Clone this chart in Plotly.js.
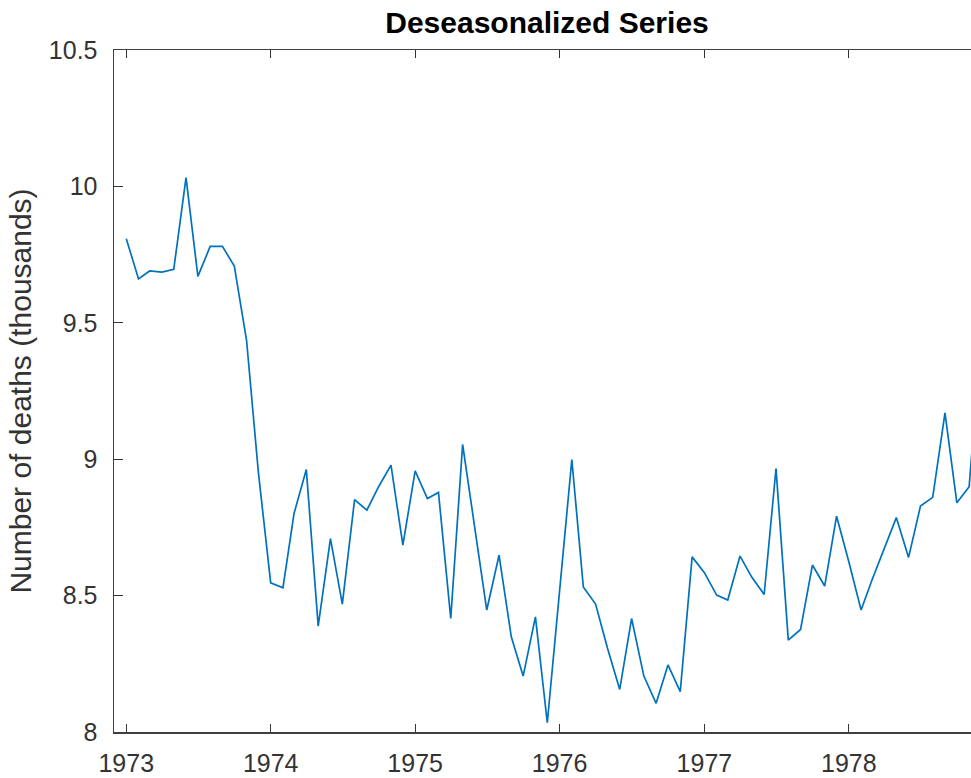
<!DOCTYPE html>
<html>
<head>
<meta charset="utf-8">
<script src="https://cdn.plot.ly/plotly-3.0.1.min.js"></script>
<style>
  html, body { margin: 0; padding: 0; overflow: hidden; background: #fff; }
  #chart { width: 991px; height: 778px; }
</style>
</head>
<body>
<div id="chart"></div>
<script>
// Deseasonalized monthly series (thousands of deaths)
const years = [1973, 1974, 1975, 1976, 1977, 1978];
const deaths1973 = [9.808, 9.661, 9.690, 9.686, 9.696, 10.032, 9.670, 9.780, 9.780, 9.708, 9.436, 8.950];
const deaths1974 = [8.547, 8.529, 8.801, 8.962, 8.388, 8.709, 8.469, 8.852, 8.813, 8.900, 8.978, 8.685];
const deaths1975 = [8.957, 8.856, 8.878, 8.416, 9.054, 8.740, 8.447, 8.648, 8.349, 8.205, 8.422, 8.034];
const deaths1976 = [8.530, 8.999, 8.532, 8.469, 8.308, 8.156, 8.416, 8.205, 8.105, 8.246, 8.148, 8.642];
const deaths1977 = [8.584, 8.502, 8.484, 8.645, 8.567, 8.504, 8.966, 8.337, 8.376, 8.612, 8.535, 8.791];
const deaths1978 = [8.624, 8.447, 8.559, 8.674, 8.786, 8.640, 8.828, 8.860, 9.170, 8.840, 8.899, 9.450];
const seriesByYear = [deaths1973, deaths1974, deaths1975, deaths1976, deaths1977, deaths1978];

const yTickVals = [8, 8.5, 9, 9.5, 10, 10.5];
const yTickText = ['8', '8.5', '9', '9.5', '10', '10.5'];
const xTickText = ['1973', '1974', '1975', '1976', '1977', '1978'];

const pad = n => (n < 10 ? '0' + n : '' + n);
const xDates = [];
const yVals = [];
seriesByYear.forEach((arr, i) => {
  arr.forEach((v, m) => {
    xDates.push(years[i] + '-' + pad(m + 1) + '-01');
    yVals.push(v);
  });
});
const xTickVals = years.map(y => y + '-01-01');

const axisColor = '#333333';
const fontFamily = '"Liberation Sans", Arial, Helvetica, sans-serif';

const trace = {
  x: xDates,
  y: yVals,
  type: 'scatter',
  mode: 'lines',
  line: { color: '#0072BD', width: 1.7 },
  hoverinfo: 'skip'
};

const layout = {
  width: 991,
  height: 778,
  margin: { l: 114, r: 10, t: 50, b: 46, pad: 0 },
  paper_bgcolor: '#ffffff',
  plot_bgcolor: '#ffffff',
  showlegend: false,
  font: { family: fontFamily, color: axisColor },
  title: {
    text: '<b>Deseasonalized Series</b>',
    font: { family: fontFamily, size: 30, color: '#000000' },
    x: 547 / 991,
    xanchor: 'center',
    xref: 'container',
    y: 1 - 22 / 778,
    yanchor: 'middle',
    yref: 'container'
  },
  xaxis: {
    type: 'date',
    range: ['1972-12-01', '1978-12-01'],
    tickvals: xTickVals,
    ticktext: xTickText,
    ticks: 'inside',
    ticklen: 8,
    tickwidth: 1.2,
    tickcolor: axisColor,
    showline: true,
    linecolor: '#404040',
    linewidth: 1.5,
    mirror: 'ticks',
    showgrid: false,
    zeroline: false,
    ticklabelstandoff: 8,
    tickfont: { family: fontFamily, size: 25, color: axisColor }
  },
  yaxis: {
    range: [8, 10.5],
    tickvals: yTickVals,
    ticktext: yTickText,
    ticks: 'inside',
    ticklen: 9,
    tickwidth: 1.2,
    tickcolor: axisColor,
    showline: true,
    linecolor: '#404040',
    linewidth: 1.5,
    mirror: 'ticks',
    showgrid: false,
    zeroline: false,
    ticklabelstandoff: 10,
    tickfont: { family: fontFamily, size: 25, color: axisColor },
    title: {
      text: 'Number of deaths (thousands)',
      font: { family: fontFamily, size: 30, color: axisColor },
      standoff: 8
    }
  }
};

Plotly.newPlot('chart', [trace], layout, { displayModeBar: false, staticPlot: true });
</script>
</body>
</html>
